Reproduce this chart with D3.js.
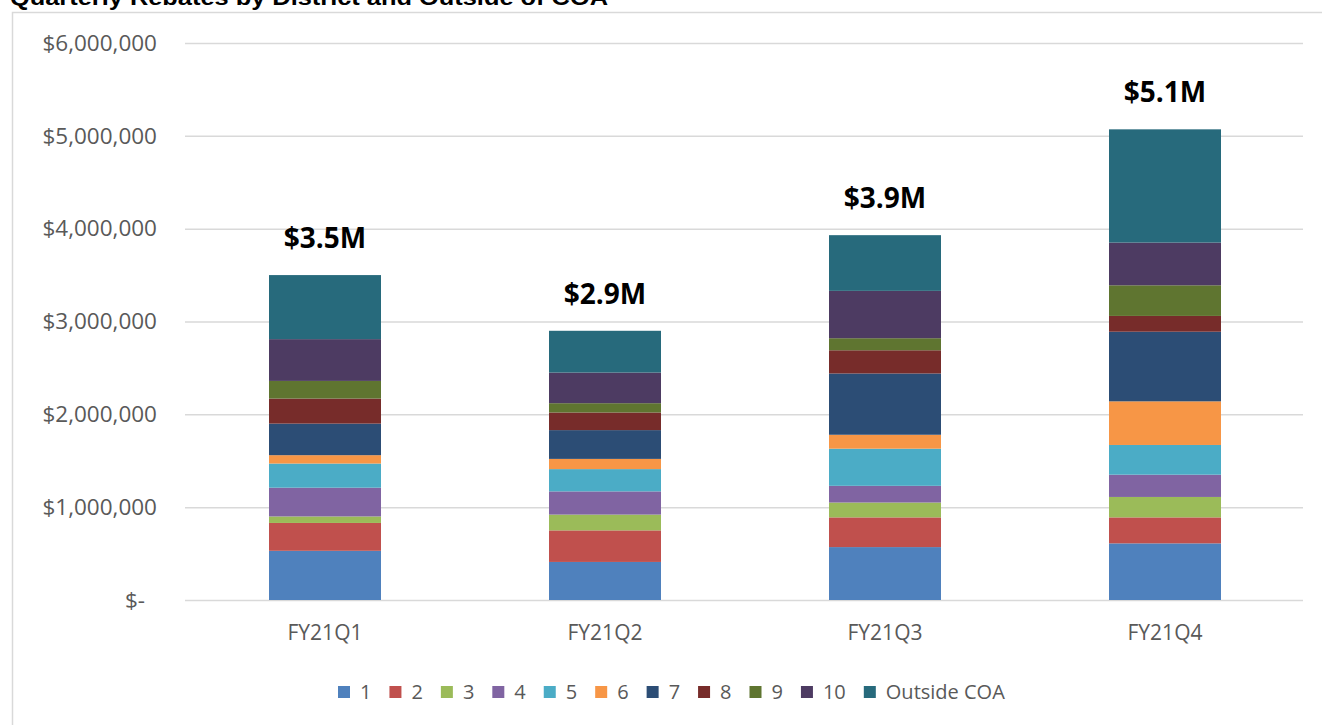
<!DOCTYPE html>
<html>
<head>
<meta charset="utf-8">
<script src="https://cdn.jsdelivr.net/npm/d3@7"></script>
<style>
	html, body { margin: 0; padding: 0; background: #ffffff; overflow: hidden; }
	svg { display: block; }
</style>
</head>
<body>
<svg id="chart" width="1322" height="725"></svg>
<script>
// categories
const quarters = ['FY21Q1', 'FY21Q2', 'FY21Q3', 'FY21Q4'];
const districts = ['1', '2', '3', '4', '5', '6', '7', '8', '9', '10', 'Outside COA'];

// rebates per district, one value per quarter
const dist1 = [530000, 410000, 570000, 610000];
const dist2 = [300000, 340000, 320000, 280000];
const dist3 = [70000, 170000, 160000, 220000];
const dist4 = [310000, 250000, 180000, 240000];
const dist5 = [260000, 240000, 400000, 320000];
const dist6 = [90000, 110000, 150000, 470000];
const dist7 = [340000, 310000, 660000, 750000];
const dist8 = [270000, 190000, 250000, 170000];
const dist9 = [190000, 100000, 130000, 330000];
const dist10 = [450000, 330000, 510000, 460000];
const outsideCOA = [690000, 450000, 600000, 1220000];

// y axis ticks
const yTicks = [0, 1000000, 2000000, 3000000, 4000000, 5000000, 6000000];

const seriesValues = [dist1, dist2, dist3, dist4, dist5, dist6, dist7, dist8, dist9, dist10, outsideCOA];
const colors = ['#4F81BD', '#C0504D', '#9BBB59', '#8064A2', '#4BACC6', '#F79646',
				'#2C4D75', '#772C2A', '#5F7530', '#4D3B62', '#276A7C'];

const chart = {

	svg: d3.select('#chart'),
	x: null,
	y: null,
	gray: '#595959',
	font: '"Open Sans", "Liberation Sans", sans-serif',

	// table for d3.stack
	rows: function() {
		return quarters.map(function(q, i) {
			const row = { quarter: q };
			districts.forEach(function(d, j) { row[d] = seriesValues[j][i]; });
			return row;
		});
	},

	// frame + title (title sits half above the page edge like the screenshot)
	frame: function() {
		this.svg.append('rect')
			.attr('x', 12.5)
			.attr('y', 12.5)
			.attr('width', 1400)
			.attr('height', 800)
			.style('fill', 'none')
			.style('stroke', '#d9d9d9')
			.style('stroke-width', 1.5);

		this.svg.append('text')
			.attr('x', 10)
			.attr('y', 5)
			.attr('textLength', 598)
			.attr('lengthAdjust', 'spacingAndGlyphs')
			.style('font-family', '"Liberation Sans", Arial, sans-serif')
			.style('font-weight', 'bold')
			.style('font-size', '22px')
			.style('fill', '#000000')
			.text('Quarterly Rebates by District and Outside of COA');
		return this;
	},

	scales: function() {
		this.x = d3.scaleBand()
			.domain(quarters)
			.range([185, 1305])
			.paddingInner(0.6)
			.paddingOuter(0.3);

		this.y = d3.scaleLinear()
			.domain([0, 6000000])
			.range([600, 43]);
		return this;
	},

	axes: function() {
		const fmt = d3.format('$,');

		// y axis + gridlines
		const gy = this.svg.append('g')
			.attr('transform', 'translate(185,0)')
			.call(d3.axisLeft(this.y)
				.tickValues(yTicks)
				.tickSize(-1118)
				.tickPadding(28)
				.tickFormat(function(d) { return d === 0 ? '$-' : fmt(d); }));

		gy.select('.domain').remove();
		gy.selectAll('.tick line')
			.style('stroke', '#d9d9d9')
			.style('stroke-width', 1.5);
		gy.selectAll('.tick text')
			.style('font-family', this.font)
			.style('font-size', '22.5px')
			.style('fill', this.gray)
			.attr('dx', function(d) { return d === 0 ? -12 : 0; });	// accounting "$-" padding

		// x axis labels
		const gx = this.svg.append('g')
			.attr('transform', 'translate(0,600)')
			.call(d3.axisBottom(this.x).tickSize(0).tickPadding(25));

		gx.select('.domain').remove();
		gx.selectAll('.tick text')
			.style('font-family', this.font)
			.style('font-size', '21px')
			.style('fill', this.gray);
		return this;
	},

	bars: function() {
		const self = this;
		const rows = this.rows();
		const stacked = d3.stack().keys(districts)(rows);

		this.svg.append('g')
			.selectAll('g')
			.data(stacked)
			.join('g')
			.style('fill', function(d, i) { return colors[i]; })
			.selectAll('rect')
			.data(function(d) { return d; })
			.join('rect')
			.attr('x', function(d) { return self.x(d.data.quarter); })
			.attr('y', function(d) { return self.y(d[1]); })
			.attr('width', this.x.bandwidth())
			.attr('height', function(d) { return self.y(d[0]) - self.y(d[1]); });

		// totals above bars
		this.svg.append('g')
			.selectAll('text')
			.data(rows)
			.join('text')
			.attr('x', function(d) { return self.x(d.quarter) + self.x.bandwidth() / 2; })
			.attr('y', function(d) { return self.y(d3.sum(districts, function(k) { return d[k]; })) - 27; })
			.style('text-anchor', 'middle')
			.style('font-family', this.font)
			.style('font-weight', 'bold')
			.style('font-size', '28px')
			.style('fill', '#000000')
			.text(function(d) {
				const total = d3.sum(districts, function(k) { return d[k]; });
				return '$' + (total / 1e6).toFixed(1) + 'M';
			});
		return this;
	},

	legend: function() {
		const g = this.svg.append('g').attr('transform', 'translate(338,692)');
		let xPos = 0;

		districts.forEach(function(d, i) {
			g.append('rect')
				.attr('x', xPos)
				.attr('y', -6)
				.attr('width', 12)
				.attr('height', 12)
				.style('fill', colors[i]);

			const t = g.append('text')
				.attr('x', xPos + 22)
				.attr('y', 0)
				.attr('dy', '0.36em')
				.style('font-family', chart.font)
				.style('font-size', '20px')
				.style('fill', chart.gray)
				.text(d);

			xPos += 22 + t.node().getComputedTextLength() + 18;
		});
		return this;
	}
};

chart.frame().scales().axes().bars().legend();
</script>
</body>
</html>
